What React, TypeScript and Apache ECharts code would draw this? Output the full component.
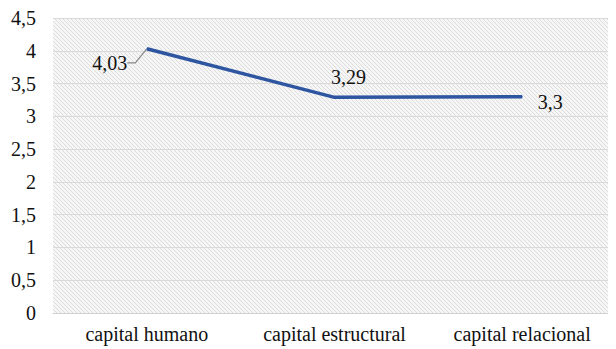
import React, { useEffect, useRef } from "react";
import * as echarts from "echarts";

const categories = ["capital humano", "capital estructural", "capital relacional"];
const values = [4.03, 3.29, 3.3];
const yTicks = { min: 0, max: 4.5, interval: 0.5 };

const fmt = (v: number) => String(v).replace(".", ",");
const FONT = "'Times New Roman', 'Liberation Serif', 'DejaVu Serif', serif";

function makePattern(): HTMLCanvasElement {
  const c = document.createElement("canvas");
  c.width = 4;
  c.height = 4;
  const ctx = c.getContext("2d")!;
  ctx.fillStyle = "#f6f6f6";
  ctx.fillRect(0, 0, 4, 4);
  ctx.fillStyle = "#dcdcdc";
  for (let i = 0; i < 4; i++) ctx.fillRect(i, i, 1, 1);
  return c;
}

export default function App() {
  const ref = useRef<HTMLDivElement>(null);
  useEffect(() => {
    if (!ref.current) return;
    const chart = echarts.init(ref.current, null, { renderer: "svg" });
    const labelPos = ["left", "top", "right"];
    const labelShift = [
      { dx: -14, dy: 14 },
      { dx: 14, dy: -5 },
      { dx: 10, dy: 5 },
    ];
    chart.setOption({
      animation: false,
      grid: {
        left: 53,
        right: -7,
        top: 18,
        bottom: 36,
        show: true,
        borderWidth: 0,
        backgroundColor: { image: makePattern(), repeat: "repeat" },
      },
      xAxis: {
        type: "category",
        data: categories,
        boundaryGap: true,
        axisTick: { show: false },
        axisLine: { lineStyle: { color: "#d0d0d0", width: 1 } },
        axisLabel: { color: "#111", fontFamily: FONT, fontSize: 20, margin: 11 },
      },
      yAxis: {
        type: "value",
        min: yTicks.min,
        max: yTicks.max,
        interval: yTicks.interval,
        axisLine: { show: false },
        axisTick: { show: false },
        splitLine: { lineStyle: { color: "#dadada", width: 1 } },
        axisLabel: {
          color: "#111",
          fontFamily: FONT,
          fontSize: 20,
          margin: 17,
          formatter: (v: number) => fmt(v),
        },
      },
      series: [
        {
          type: "line",
          data: values.map((v, i) => ({
            value: v,
            label: { position: labelPos[i] },
            labelLine:
              i === 0
                ? { show: true, smooth: false, length2: 8, lineStyle: { color: "#888", width: 1.2 } }
                : { show: false },
          })),
          labelLayout: (p: any) => labelShift[p.dataIndex],
          showSymbol: true,
          symbol: "circle",
          symbolSize: 1,
          itemStyle: { color: "#2d55a0" },
          lineStyle: { color: "#2d55a0", width: 3.5 },
          label: {
            show: true,
            color: "#111",
            fontFamily: FONT,
            fontSize: 20,
            formatter: (p: any) => fmt(p.value),
          },
        },
      ],
    });
    return () => chart.dispose();
  }, []);
  return <div ref={ref} style={{ width: 616, height: 349, marginLeft: -8, marginTop: -8 }} />;
}
